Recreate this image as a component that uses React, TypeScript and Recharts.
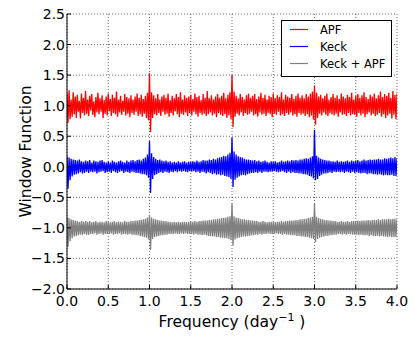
import React from 'react';
import { LineChart, Line, XAxis, YAxis, CartesianGrid, Legend, Label } from 'recharts';

const FREQ_STEP = 0.0125;

const apfValues = [
  1.2, 0.72, 1.25, 0.78, 1.1, 0.82, 1.22, 0.86, 1.15, 0.8, 1.18, 0.9, 1.08, 0.79, 1.2, 0.88, 1.13, 0.84, 1.24, 0.87,
  1.1, 0.83, 1.16, 0.92, 1.19, 0.85, 1.07, 0.81, 1.14, 0.89, 1.21, 0.86, 1.12, 0.9, 1.17, 0.8, 1.09, 0.87, 1.15, 0.84,
  1.2, 0.91, 1.11, 0.83, 1.18, 0.88, 1.13, 0.86, 1.23, 0.82, 1.1, 0.89, 1.16, 0.85, 1.08, 0.9, 1.19, 0.84, 1.14, 0.87,
  1.12, 0.81, 1.17, 0.88, 1.1, 0.85, 1.15, 0.9, 1.2, 0.83, 1.13, 0.86, 1.18, 0.82, 1.11, 0.87, 1.16, 0.8, 1.21, 0.76,
  1.53, 0.57, 1.22, 0.8, 1.17, 0.86, 1.12, 0.84, 1.19, 0.88, 1.1, 0.83, 1.15, 0.9, 1.18, 0.85, 1.13, 0.87, 1.2, 0.82,
  1.09, 0.88, 1.16, 0.84, 1.12, 0.91, 1.19, 0.86, 1.14, 0.81, 1.22, 0.87, 1.1, 0.85, 1.17, 0.89, 1.13, 0.83, 1.15, 0.88,
  1.18, 0.84, 1.11, 0.9, 1.2, 0.86, 1.14, 0.82, 1.16, 0.88, 1.09, 0.85, 1.19, 0.87, 1.13, 0.83, 1.24, 0.86, 1.12, 0.89,
  1.17, 0.84, 1.1, 0.87, 1.15, 0.81, 1.19, 0.88, 1.13, 0.85, 1.16, 0.83, 1.21, 0.86, 1.12, 0.8, 1.18, 0.84, 1.22, 0.78,
  1.5, 0.65, 1.23, 0.82, 1.16, 0.87, 1.12, 0.84, 1.19, 0.89, 1.14, 0.83, 1.1, 0.88, 1.17, 0.85, 1.2, 0.87, 1.13, 0.9,
  1.16, 0.84, 1.19, 0.86, 1.11, 0.82, 1.15, 0.89, 1.21, 0.85, 1.13, 0.87, 1.18, 0.83, 1.1, 0.88, 1.16, 0.86, 1.14, 0.81,
  1.2, 0.87, 1.12, 0.85, 1.17, 0.9, 1.14, 0.84, 1.22, 0.86, 1.1, 0.83, 1.18, 0.88, 1.15, 0.85, 1.13, 0.89, 1.19, 0.84,
  1.11, 0.86, 1.16, 0.82, 1.2, 0.88, 1.13, 0.85, 1.17, 0.87, 1.12, 0.83, 1.19, 0.86, 1.15, 0.81, 1.2, 0.84, 1.23, 0.77,
  1.33, 0.69, 1.21, 0.8, 1.15, 0.87, 1.18, 0.84, 1.12, 0.89, 1.16, 0.85, 1.2, 0.83, 1.1, 0.88, 1.14, 0.86, 1.19, 0.84,
  1.13, 0.87, 1.17, 0.82, 1.11, 0.89, 1.2, 0.85, 1.15, 0.86, 1.12, 0.83, 1.18, 0.88, 1.14, 0.84, 1.21, 0.86, 1.1, 0.85,
  1.16, 0.82, 1.19, 0.88, 1.13, 0.84, 1.17, 0.87, 1.22, 0.81, 1.14, 0.86, 1.11, 0.89, 1.18, 0.84, 1.15, 0.87, 1.2, 0.83,
  1.12, 0.85, 1.17, 0.88, 1.23, 0.82, 1.14, 0.86, 1.19, 0.8, 1.16, 0.84, 1.21, 0.87, 1.13, 0.79, 1.24, 0.85, 1.18, 0.78,
  1.2,
];

const keckValues = [
  0.17, -0.36, 0.15, -0.22, 0.13, -0.16, 0.12, -0.13, 0.11, -0.12, 0.1, -0.11, 0.12, -0.09, 0.09, -0.11, 0.08, -0.1, 0.1, -0.08,
  0.09, -0.1, 0.11, -0.08, 0.07, -0.09, 0.1, -0.08, 0.09, -0.11, 0.08, -0.09, 0.1, -0.08, 0.11, -0.07, 0.08, -0.1, 0.07, -0.09,
  0.09, -0.08, 0.07, -0.1, 0.1, -0.07, 0.08, -0.09, 0.07, -0.1, 0.09, -0.08, 0.1, -0.07, 0.08, -0.1, 0.07, -0.08, 0.1, -0.09,
  0.08, -0.1, 0.1, -0.08, 0.11, -0.09, 0.09, -0.1, 0.11, -0.1, 0.12, -0.11, 0.1, -0.12, 0.13, -0.12, 0.15, -0.14, 0.2, -0.18,
  0.42, -0.43, 0.22, -0.2, 0.16, -0.14, 0.13, -0.12, 0.11, -0.1, 0.12, -0.09, 0.1, -0.1, 0.09, -0.08, 0.1, -0.09, 0.08, -0.1,
  0.09, -0.08, 0.07, -0.09, 0.08, -0.07, 0.07, -0.09, 0.09, -0.07, 0.07, -0.08, 0.08, -0.07, 0.09, -0.08, 0.07, -0.09, 0.08, -0.07,
  0.08, -0.08, 0.09, -0.07, 0.08, -0.09, 0.1, -0.08, 0.08, -0.1, 0.09, -0.08, 0.11, -0.09, 0.1, -0.11, 0.1, -0.09, 0.12, -0.1,
  0.11, -0.12, 0.13, -0.11, 0.12, -0.13, 0.14, -0.12, 0.15, -0.14, 0.16, -0.13, 0.18, -0.15, 0.17, -0.16, 0.2, -0.17, 0.23, -0.2,
  0.48, -0.33, 0.25, -0.21, 0.2, -0.18, 0.17, -0.16, 0.16, -0.14, 0.15, -0.13, 0.13, -0.14, 0.12, -0.12, 0.12, -0.11, 0.11, -0.1,
  0.1, -0.1, 0.11, -0.09, 0.09, -0.1, 0.1, -0.08, 0.08, -0.1, 0.09, -0.08, 0.1, -0.08, 0.08, -0.09, 0.07, -0.08, 0.09, -0.08,
  0.08, -0.07, 0.09, -0.08, 0.07, -0.09, 0.08, -0.08, 0.1, -0.07, 0.08, -0.09, 0.09, -0.1, 0.1, -0.08, 0.09, -0.1, 0.11, -0.09,
  0.1, -0.1, 0.11, -0.1, 0.1, -0.11, 0.12, -0.11, 0.12, -0.12, 0.13, -0.12, 0.14, -0.13, 0.13, -0.15, 0.15, -0.16, 0.17, -0.19,
  0.6, -0.22, 0.18, -0.2, 0.15, -0.15, 0.13, -0.13, 0.12, -0.11, 0.11, -0.11, 0.1, -0.1, 0.1, -0.09, 0.09, -0.1, 0.09, -0.08,
  0.08, -0.09, 0.1, -0.08, 0.08, -0.09, 0.09, -0.08, 0.08, -0.1, 0.09, -0.08, 0.1, -0.09, 0.08, -0.1, 0.1, -0.08, 0.09, -0.1,
  0.1, -0.09, 0.11, -0.1, 0.09, -0.11, 0.1, -0.1, 0.12, -0.1, 0.1, -0.12, 0.11, -0.11, 0.12, -0.11, 0.11, -0.12, 0.12, -0.12,
  0.12, -0.13, 0.13, -0.12, 0.12, -0.13, 0.12, -0.14, 0.14, -0.13, 0.13, -0.14, 0.14, -0.14, 0.15, -0.13, 0.14, -0.15, 0.16, -0.15,
  0.14,
];

const combinedValues = [
  -0.82, -1.31, -0.84, -1.22, -0.86, -1.17, -0.87, -1.14, -0.88, -1.13, -0.89, -1.12, -0.9, -1.11, -0.89, -1.12, -0.9, -1.1, -0.89, -1.11,
  -0.9, -1.11, -0.89, -1.1, -0.91, -1.1, -0.9, -1.09, -0.89, -1.11, -0.91, -1.1, -0.9, -1.09, -0.9, -1.11, -0.91, -1.1, -0.89, -1.1,
  -0.9, -1.1, -0.91, -1.09, -0.9, -1.11, -0.89, -1.1, -0.91, -1.1, -0.9, -1.09, -0.9, -1.11, -0.91, -1.1, -0.89, -1.1, -0.9, -1.11,
  -0.9, -1.1, -0.89, -1.11, -0.89, -1.11, -0.88, -1.12, -0.88, -1.12, -0.87, -1.13, -0.87, -1.14, -0.86, -1.15, -0.85, -1.16, -0.83, -1.19,
  -0.79, -1.36, -0.83, -1.18, -0.85, -1.15, -0.86, -1.14, -0.87, -1.13, -0.88, -1.12, -0.88, -1.12, -0.89, -1.11, -0.89, -1.11, -0.9, -1.1,
  -0.9, -1.1, -0.91, -1.1, -0.9, -1.09, -0.91, -1.1, -0.9, -1.1, -0.91, -1.09, -0.9, -1.1, -0.9, -1.09, -0.91, -1.1, -0.9, -1.1,
  -0.9, -1.1, -0.9, -1.11, -0.89, -1.1, -0.9, -1.11, -0.89, -1.11, -0.89, -1.12, -0.88, -1.11, -0.88, -1.12, -0.88, -1.13, -0.87, -1.13,
  -0.87, -1.14, -0.86, -1.14, -0.86, -1.15, -0.85, -1.15, -0.85, -1.16, -0.84, -1.16, -0.84, -1.17, -0.83, -1.17, -0.82, -1.18, -0.81, -1.2,
  -0.6, -1.29, -0.81, -1.19, -0.83, -1.17, -0.84, -1.16, -0.85, -1.15, -0.86, -1.14, -0.86, -1.14, -0.87, -1.13, -0.87, -1.13, -0.88, -1.12,
  -0.88, -1.12, -0.89, -1.11, -0.89, -1.11, -0.9, -1.1, -0.9, -1.11, -0.89, -1.1, -0.9, -1.1, -0.91, -1.09, -0.9, -1.1, -0.9, -1.1,
  -0.9, -1.1, -0.91, -1.09, -0.9, -1.1, -0.9, -1.1, -0.89, -1.11, -0.9, -1.1, -0.89, -1.11, -0.89, -1.11, -0.88, -1.12, -0.88, -1.12,
  -0.88, -1.12, -0.87, -1.13, -0.87, -1.13, -0.86, -1.14, -0.86, -1.14, -0.85, -1.15, -0.85, -1.15, -0.84, -1.16, -0.83, -1.17, -0.82, -1.18,
  -0.6, -1.23, -0.82, -1.18, -0.84, -1.16, -0.85, -1.15, -0.86, -1.14, -0.87, -1.13, -0.87, -1.13, -0.88, -1.12, -0.88, -1.12, -0.89, -1.11,
  -0.89, -1.11, -0.9, -1.1, -0.9, -1.1, -0.89, -1.11, -0.9, -1.1, -0.9, -1.11, -0.89, -1.1, -0.9, -1.1, -0.89, -1.11, -0.89, -1.11,
  -0.89, -1.11, -0.88, -1.12, -0.89, -1.11, -0.88, -1.12, -0.88, -1.12, -0.88, -1.12, -0.87, -1.13, -0.88, -1.12, -0.87, -1.13, -0.87, -1.13,
  -0.87, -1.13, -0.86, -1.14, -0.87, -1.13, -0.86, -1.14, -0.86, -1.14, -0.86, -1.15, -0.85, -1.14, -0.86, -1.15, -0.85, -1.15, -0.85, -1.15,
  -0.86,
];

const xTicks = [0, 0.5, 1, 1.5, 2, 2.5, 3, 3.5, 4];
const yTicks = [-2, -1.5, -1, -0.5, 0, 0.5, 1, 1.5, 2, 2.5];
const seriesNames = ['APF', 'Keck', 'Keck + APF'];
const seriesColors = ['#ff0000', '#0000ff', '#808080'];

const data = apfValues.map((v, i) => ({
  freq: i * FREQ_STEP,
  apf: v,
  keck: keckValues[i],
  both: combinedValues[i],
}));

const FONT = '"DejaVu Sans", sans-serif';
const TICK_FS = 14;
const TICK_LEN = 4;
const SERIES_WIDTH = 1.3;

const fmt = (v: number) => {
  const s = Math.abs(v).toFixed(1);
  return v < 0 ? '\u2212' + s : s;
};

const BottomTick = (props: any) => {
  const { x, y, payload } = props;
  return (
    <g>
      <line x1={x} x2={x} y1={y} y2={y - TICK_LEN} stroke="#000" strokeWidth={1} />
      <text x={x} y={y + 17} textAnchor="middle" fontFamily={FONT} fontSize={TICK_FS} fill="#000">
        {fmt(payload.value)}
      </text>
    </g>
  );
};

const TopTick = (props: any) => {
  const { x, y } = props;
  return <line x1={x} x2={x} y1={y} y2={y + TICK_LEN} stroke="#000" strokeWidth={1} />;
};

const LeftTick = (props: any) => {
  const { x, y, payload } = props;
  return (
    <g>
      <line x1={x} x2={x + TICK_LEN} y1={y} y2={y} stroke="#000" strokeWidth={1} />
      <text x={x - 2} y={y} dy="0.36em" textAnchor="end" fontFamily={FONT} fontSize={TICK_FS} fill="#000">
        {fmt(payload.value)}
      </text>
    </g>
  );
};

const RightTick = (props: any) => {
  const { x, y } = props;
  return <line x1={x} x2={x - TICK_LEN} y1={y} y2={y} stroke="#000" strokeWidth={1} />;
};

const LegendBox = () => (
  <svg width={111} height={57} style={{ display: 'block' }}>
    <rect x={0.5} y={0.5} width={110} height={56} fill="#fff" stroke="#000" strokeWidth={1} />
    {seriesNames.map((name, i) => {
      const cy = 9.5 + i * 17;
      return (
        <g key={name}>
          <line x1={9} x2={27} y1={cy} y2={cy} stroke={seriesColors[i]} strokeWidth={1.2} />
          <text x={39} y={cy} dy="0.36em" fontFamily={FONT} fontSize={11.5} fill="#000">
            {name}
          </text>
        </g>
      );
    })}
  </svg>
);

const XLabel = (props: any) => {
  const vb = props.viewBox || {};
  const cx = vb.x + vb.width / 2;
  return (
    <text x={cx} y={327} textAnchor="middle" fontFamily={FONT} fontSize={15.5} fill="#000">
      Frequency (day
      <tspan fontSize={11} dy={-6}>{'\u22121'}</tspan>
      <tspan dy={6}>{' )'}</tspan>
    </text>
  );
};

const YLabel = (props: any) => {
  const vb = props.viewBox || {};
  const cy = vb.y + vb.height / 2;
  return (
    <text
      x={31}
      y={cy}
      textAnchor="middle"
      transform={`rotate(-90, 31, ${cy})`}
      fontFamily={FONT}
      fontSize={15.5}
      fill="#000"
    >
      Window Function
    </text>
  );
};

export default function App() {
  return (
    <div style={{ position: 'absolute', left: 0, top: 0, background: '#fff' }}>
      <LineChart
        width={415}
        height={340}
        data={data}
        margin={{ top: 14, right: 18, bottom: 0, left: 0 }}
      >
        <CartesianGrid
          stroke="#000"
          strokeWidth={0.6}
          strokeDasharray="1 2"
          horizontalValues={yTicks}
          verticalValues={xTicks}
        />
        <XAxis
          dataKey="freq"
          type="number"
          domain={[0, 4]}
          ticks={xTicks}
          interval={0}
          height={51}
          tickSize={0}
          tickMargin={0}
          tickLine={false}
          tick={<BottomTick />}
          axisLine={{ stroke: '#000', strokeWidth: 1 }}
          allowDataOverflow
        >
          <Label content={<XLabel />} />
        </XAxis>
        <XAxis
          xAxisId="top"
          orientation="top"
          dataKey="freq"
          type="number"
          domain={[0, 4]}
          ticks={xTicks}
          interval={0}
          height={0}
          tickSize={0}
          tickMargin={0}
          tickLine={false}
          tick={<TopTick />}
          axisLine={{ stroke: '#000', strokeWidth: 1 }}
          allowDataOverflow
        />
        <YAxis
          type="number"
          domain={[-2, 2.5]}
          ticks={yTicks}
          interval={0}
          width={67}
          tickSize={0}
          tickMargin={0}
          tickLine={false}
          tick={<LeftTick />}
          axisLine={{ stroke: '#000', strokeWidth: 1 }}
          allowDataOverflow
        >
          <Label content={<YLabel />} />
        </YAxis>
        <YAxis
          yAxisId="right"
          orientation="right"
          type="number"
          domain={[-2, 2.5]}
          ticks={yTicks}
          interval={0}
          width={0}
          tickSize={0}
          tickMargin={0}
          tickLine={false}
          tick={<RightTick />}
          axisLine={{ stroke: '#000', strokeWidth: 1 }}
          allowDataOverflow
        />
        <Line
          dataKey="apf"
          name={seriesNames[0]}
          stroke={seriesColors[0]}
          strokeWidth={SERIES_WIDTH}
          dot={false}
          activeDot={false}
          isAnimationActive={false}
        />
        <Line
          dataKey="keck"
          name={seriesNames[1]}
          stroke={seriesColors[1]}
          strokeWidth={SERIES_WIDTH}
          dot={false}
          activeDot={false}
          isAnimationActive={false}
        />
        <Line
          dataKey="both"
          name={seriesNames[2]}
          stroke={seriesColors[2]}
          strokeWidth={SERIES_WIDTH}
          dot={false}
          activeDot={false}
          isAnimationActive={false}
        />
        <Legend
          layout="vertical"
          align="center"
          verticalAlign="middle"
          wrapperStyle={{ position: 'absolute', left: 281, top: 20, width: 111, height: 57 }}
          content={<LegendBox />}
        />
      </LineChart>
    </div>
  );
}
